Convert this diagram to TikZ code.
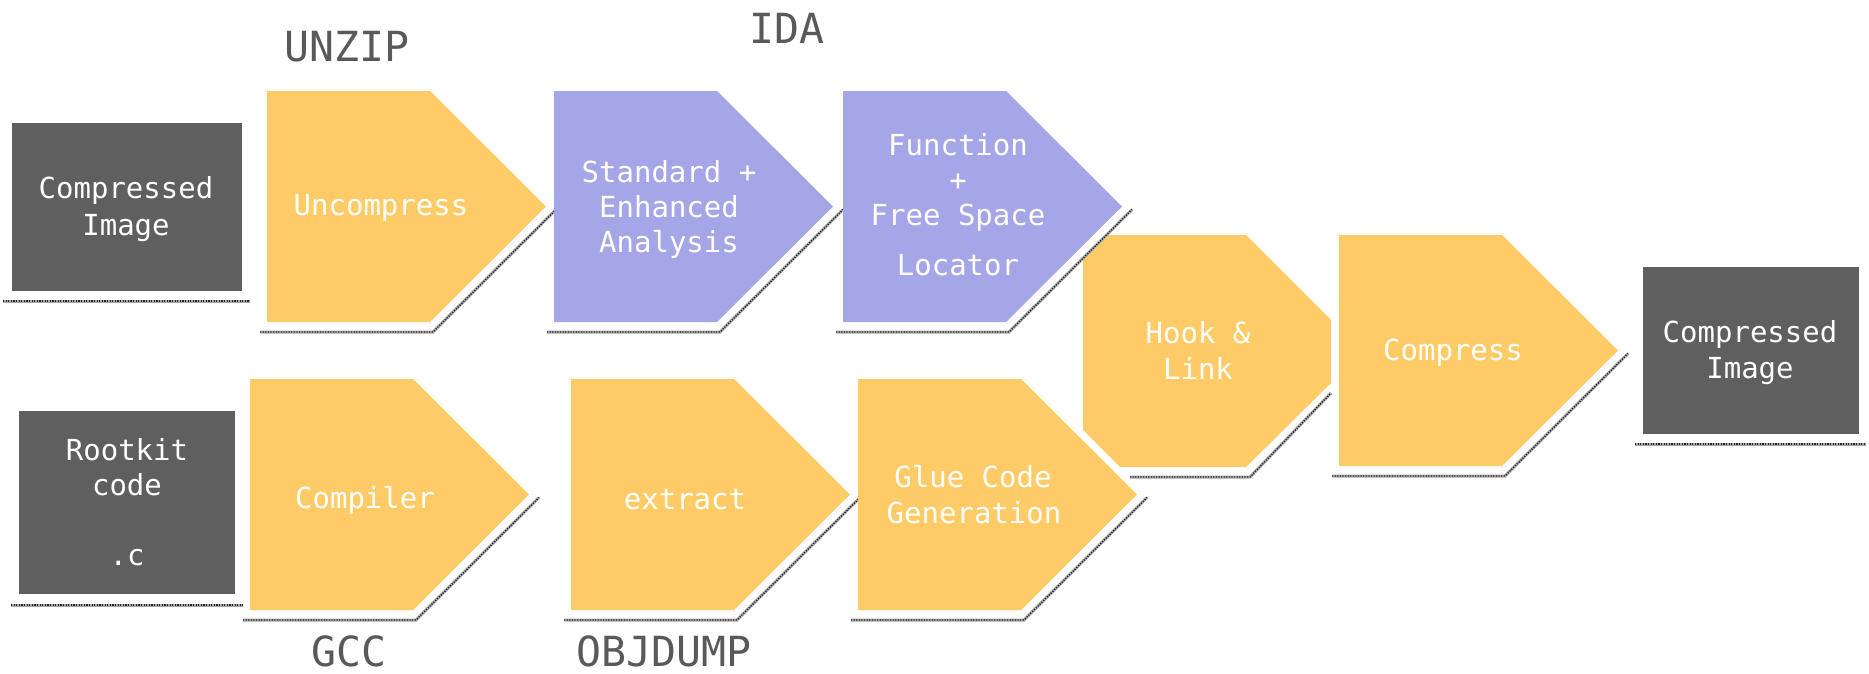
\documentclass[tikz,border=0pt]{standalone}
\usepackage{fontspec}
\newfontfamily\stagefont{DejaVu Sans Mono}

\definecolor{stageorange}{HTML}{FECB67}
\definecolor{stagepurple}{HTML}{A5A6E8}
\definecolor{boxgray}{HTML}{5F5F5F}
\definecolor{taggray}{HTML}{595959}

\tikzset{
  txt/.style={font=\fontsize{29}{35}\selectfont\stagefont, text=white, anchor=base, inner sep=0pt},
  tag/.style={font=\fontsize{41.5}{48}\selectfont\stagefont, text=taggray, anchor=base,
    inner sep=0pt, text depth=0pt},
  hatch/.style={draw=gray!70, line width=3pt,
    postaction={draw=black!85, line width=1.3pt, dash pattern=on 1.2pt off 1.4pt}},
}

% arrow-shaped stage: #1 = left x, #2 = top y, #3 = fill colour
\newcommand\arrowstage[3]{%
  \fill[white] (#1,#2) -- ({#1+163},#2) -- ({#1+279},{#2+115.5}) -- ({#1+289},{#2+118.5})
     -- ({#1+166},{#2+241}) -- ({#1-7},{#2+241}) -- ({#1-7},{#2+231}) -- (#1,{#2+231}) -- cycle;
  \draw[hatch] ({#1-7},{#2+241}) -- ({#1+166},{#2+241}) -- ({#1+289},{#2+118.5});
  \fill[#3] (#1,#2) -- ({#1+163},#2) -- ({#1+279},{#2+115.5}) -- ({#1+163},{#2+231})
     -- (#1,{#2+231}) -- cycle;
}

\begin{document}
\begin{tikzpicture}[x=1pt, y=-1pt]
\useasboundingbox (0,0) rectangle (1869,673);

% stages at the back: hook/link and compress
\draw[hatch] (1130,477) -- (1250,477) -- (1331,393);
\fill[stageorange] (1083,235) -- (1246,235) -- (1331,320) -- (1331,383) -- (1246,467)
   -- (1120,467) -- (1083,430) -- cycle;
\arrowstage{1339}{235}{stageorange}

% upper row
\arrowstage{267}{91}{stageorange}
\arrowstage{554}{91}{stagepurple}
\arrowstage{843}{91}{stagepurple}

% lower row
\arrowstage{250}{379}{stageorange}
\arrowstage{571}{379}{stageorange}
\arrowstage{858}{379}{stageorange}

% input and output images
\draw[hatch] (3,301) -- (250,301);
\fill[boxgray] (12,123) rectangle (242,291);
\draw[hatch] (11,605) -- (243,605);
\fill[boxgray] (19,411) rectangle (235,594);
\draw[hatch] (1635,444) -- (1866,444);
\fill[boxgray] (1643,267) rectangle (1859,434);

% texts inside the shapes
\node[txt] (img-in-1) at (126,198) {Compressed};
\node[txt] (img-in-2) at (126,235) {Image};
\node[txt] (uncompress) at (381,215) {Uncompress};
\node[txt] (std-1) at (669,182) {Standard +};
\node[txt] (std-2) at (669,217) {Enhanced};
\node[txt] (std-3) at (669,252) {Analysis};
\node[txt] (fn-1) at (958,155) {Function};
\node[txt] (fn-2) at (958,190) {+};
\node[txt] (fn-3) at (958,225) {Free Space};
\node[txt] (fn-4) at (958,275) {Locator};
\node[txt] (hook-1) at (1198,343) {Hook \&};
\node[txt] (hook-2) at (1198,379) {Link};
\node[txt] (compress) at (1453,360) {Compress};
\node[txt] (img-out-1) at (1750,342) {Compressed};
\node[txt] (img-out-2) at (1750,378) {Image};
\node[txt] (src-1) at (127,460) {Rootkit};
\node[txt] (src-2) at (127,495) {code};
\node[txt] (src-3) at (127,565) {.c};
\node[txt] (compiler) at (365,508) {Compiler};
\node[txt] (extract) at (685,509) {extract};
\node[txt] (glue-1) at (973,487) {Glue Code};
\node[txt] (glue-2) at (974,523) {Generation};

% tool names
\node[tag] (unzip) at (347,61) {UNZIP};
\node[tag] (ida) at (787,43) {IDA};
\node[tag] (gcc) at (349,666) {GCC};
\node[tag] (objdump) at (664,666) {OBJDUMP};
\end{tikzpicture}
\end{document}
